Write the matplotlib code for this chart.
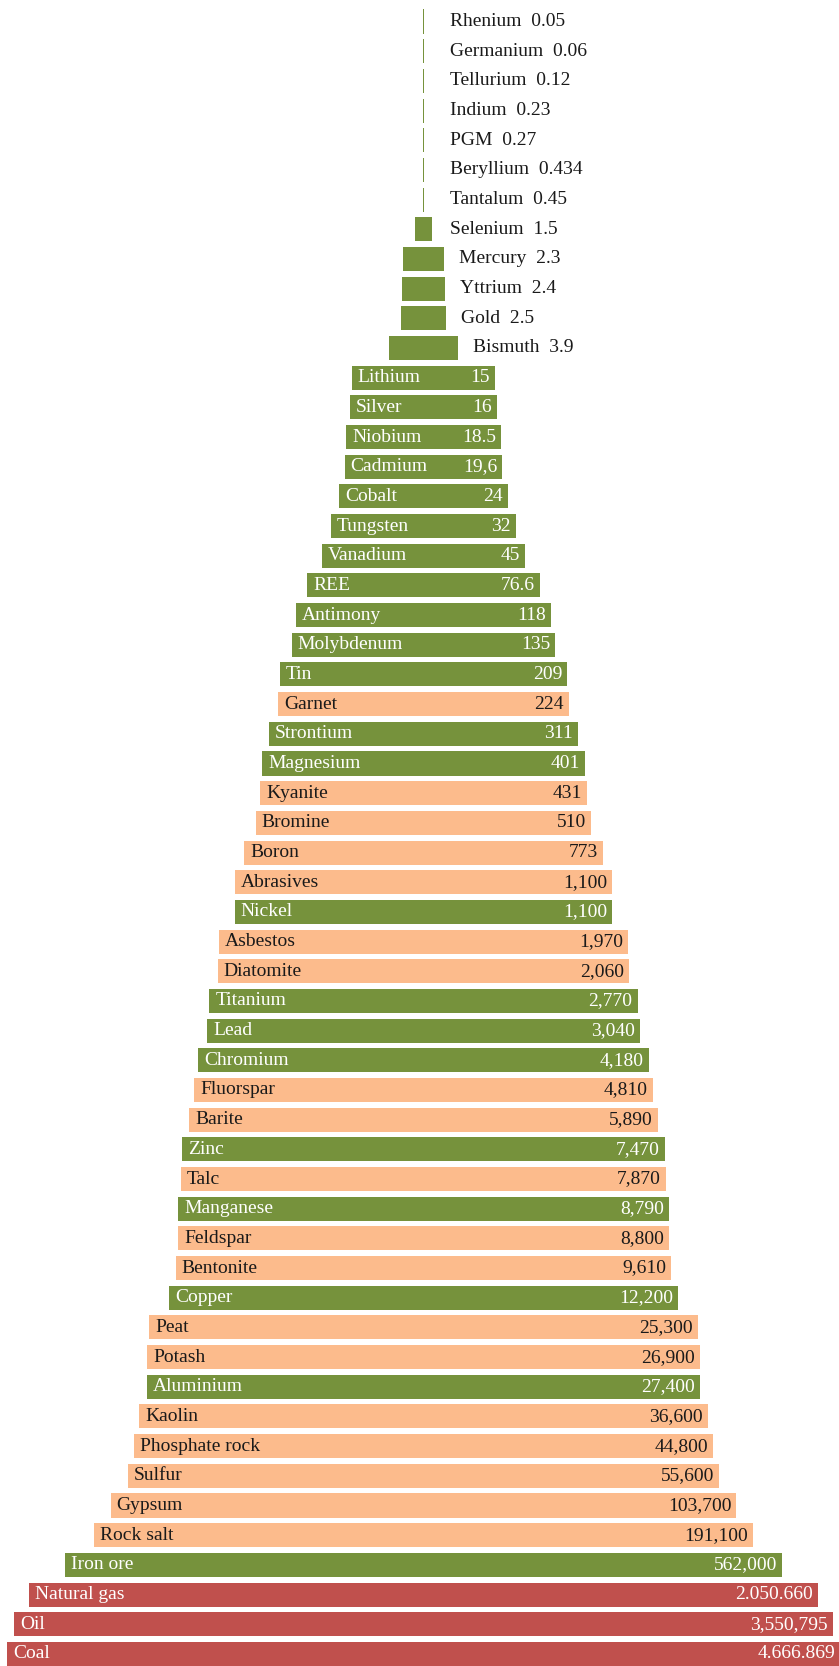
import numpy as np
import matplotlib
matplotlib.use("Agg")
import matplotlib.pyplot as plt

names = ["Rhenium", "Germanium", "Tellurium", "Indium", "PGM", "Beryllium", "Tantalum",
         "Selenium", "Mercury", "Yttrium", "Gold", "Bismuth",
         "Lithium", "Silver", "Niobium", "Cadmium", "Cobalt", "Tungsten", "Vanadium", "REE",
         "Antimony", "Molybdenum", "Tin", "Garnet", "Strontium", "Magnesium", "Kyanite",
         "Bromine", "Boron", "Abrasives", "Nickel", "Asbestos", "Diatomite", "Titanium",
         "Lead", "Chromium", "Fluorspar", "Barite", "Zinc", "Talc", "Manganese", "Feldspar",
         "Bentonite", "Copper", "Peat", "Potash", "Aluminium", "Kaolin", "Phosphate rock",
         "Sulfur", "Gypsum", "Rock salt", "Iron ore", "Natural gas", "Oil", "Coal"]

values = [0.05, 0.06, 0.12, 0.23, 0.27, 0.434, 0.45,
          1.5, 2.3, 2.4, 2.5, 3.9,
          15, 16, 18.5, 19.6, 24, 32, 45, 76.6,
          118, 135, 209, 224, 311, 401, 431,
          510, 773, 1100, 1100, 1970, 2060, 2770,
          3040, 4180, 4810, 5890, 7470, 7870, 8790, 8800,
          9610, 12200, 25300, 26900, 27400, 36600, 44800,
          55600, 103700, 191100, 562000, 2050660, 3550795, 4666869]

value_labels = ["0.05", "0.06", "0.12", "0.23", "0.27", "0.434", "0.45",
                "1.5", "2.3", "2.4", "2.5", "3.9",
                "15", "16", "18.5", "19,6", "24", "32", "45", "76.6",
                "118", "135", "209", "224", "311", "401", "431",
                "510", "773", "1,100", "1,100", "1,970", "2,060", "2,770",
                "3,040", "4,180", "4,810", "5,890", "7,470", "7,870", "8,790", "8,800",
                "9,610", "12,200", "25,300", "26,900", "27,400", "36,600", "44,800",
                "55,600", "103,700", "191,100", "562,000", "2.050.660", "3,550,795", "4.666.869"]

# M = metal, I = industrial mineral, E = energy
groups = ["M"] * 23 + ["I", "M", "M", "I", "I", "I", "I", "M", "I", "I", "M", "M", "M",
                       "I", "I", "M", "I", "M", "I", "I", "M", "I", "I", "M", "I", "I",
                       "I", "I", "I", "M", "E", "E", "E"]

colors = {"M": "#76923C", "I": "#FCBB8C", "E": "#C0504D"}
text_colors = {"M": "#FFFFFF", "I": "#1A1A1A", "E": "#FFFFFF"}

plt.rcParams["font.family"] = ["Liberation Serif", "DejaVu Serif"]

W, H = 839, 1666
fig = plt.figure(figsize=(W / 100, H / 100), dpi=100)
ax = fig.add_axes([0, 0, 1, 1])
ax.set_xlim(0, W)
pitch = 29.68
top = 21.5
ax.set_ylim((H - top) / pitch, -top / pitch)
ax.axis("off")

center = 423.5
slope, icpt = 125.6, -4.35
v = np.array(values)
widths = slope * np.log10(v) + icpt
min_w = 1.4
widths_draw = np.maximum(widths, min_w)
ypos = np.arange(len(names))
bar_colors = [colors[g] for g in groups]

ax.barh(ypos, widths_draw, left=center - widths_draw / 2, height=0.81,
        color=bar_colors, edgecolor="none")

fs = 14
for i, (n, lab, w, g) in enumerate(zip(names, value_labels, widths, groups)):
    if values[i] < 10:
        x = center + max(w / 2, 12) + 15
        ax.text(x, i, f"{n}  {lab}", ha="left", va="center", fontsize=fs, color="#1A1A1A")
    else:
        left = center - w / 2
        right = center + w / 2
        ax.text(left + 6, i, n, ha="left", va="center", fontsize=fs, color=text_colors[g])
        ax.text(right - 5, i, lab, ha="right", va="center", fontsize=fs, color=text_colors[g])

fig.savefig("out.png", dpi=100, facecolor="white")
